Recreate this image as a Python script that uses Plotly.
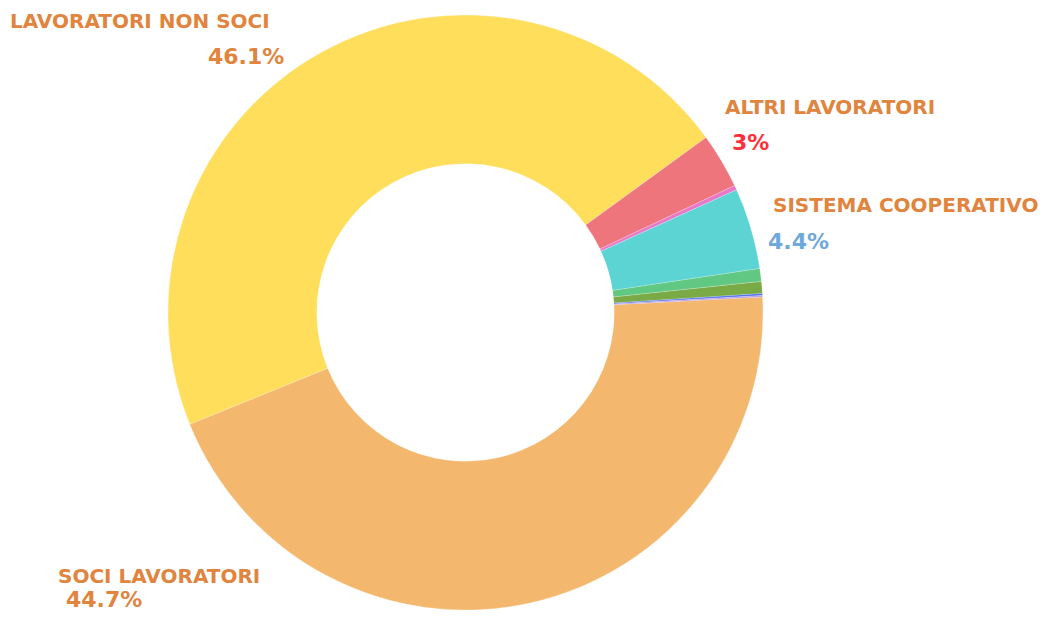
import plotly.graph_objects as go

categories = ["SOCI LAVORATORI", "LAVORATORI NON SOCI", "ALTRI LAVORATORI", "ALTRO 1",
              "SISTEMA COOPERATIVO", "ALTRO 2", "ALTRO 3", "ALTRO 4", "ALTRO 5"]
values = [44.7, 46.1, 3.0, 0.25, 4.4, 0.7, 0.65, 0.1, 0.08]
colors = ["#F3B76D", "#FFDE5C", "#EF757D", "#E878C8", "#5CD4D4",
          "#60C882", "#7AAA46", "#4A6CF0", "#B89AE0"]

label_texts = ["LAVORATORI NON SOCI", "ALTRI LAVORATORI", "SISTEMA COOPERATIVO", "SOCI LAVORATORI"]
pct_texts = ["46.1%", "3%", "4.4%", "44.7%"]
pct_colors = ["#E0843E", "#FF2F3A", "#6FA8DC", "#E0843E"]

OFF = 8  # page body margin
W, H = 1051 - 2 * OFF, 623 - 2 * OFF


def px(x):
    return (x - OFF) / W


def py(y):
    return 1 - (y - OFF) / H


fig = go.Figure(go.Pie(
    labels=categories, values=values, sort=False, direction="clockwise",
    rotation=87, hole=0.5, textinfo="none", hoverinfo="label+percent",
    marker=dict(colors=colors, line=dict(color="rgba(255,255,255,0.4)", width=0.5)),
    domain=dict(x=[px(168), px(763)], y=[py(610), py(15)]),
    showlegend=False,
))

FONT = "DejaVu Sans"
lab_col = "#E0843E"
lab_pos = [(8, 21, "left"), (723, 107, "left"), (771, 205, "left"), (56, 576, "left")]
pct_pos = [(286, 57, "right"), (730, 142, "left"), (766, 241, "left"), (64, 599, "left")]

for t, (x, y, a) in zip(label_texts, lab_pos):
    fig.add_annotation(x=px(x), y=py(y), xref="paper", yref="paper", text=t,
                       showarrow=False, xanchor=a, yanchor="middle",
                       font=dict(family=FONT, size=20, color=lab_col, weight=700))
for t, c, (x, y, a) in zip(pct_texts, pct_colors, pct_pos):
    fig.add_annotation(x=px(x), y=py(y), xref="paper", yref="paper", text=t,
                       showarrow=False, xanchor=a, yanchor="middle",
                       font=dict(family=FONT, size=22, color=c, weight=700))

fig.update_layout(width=W, height=H, margin=dict(l=0, r=0, t=0, b=0),
                  paper_bgcolor="white", plot_bgcolor="white")
fig.write_html("out.html")
